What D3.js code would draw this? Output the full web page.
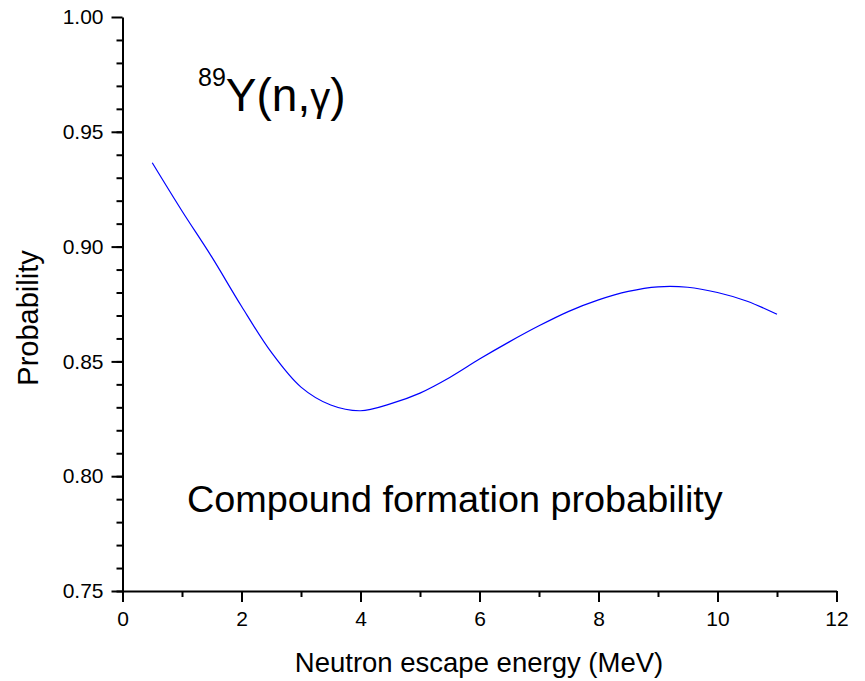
<!DOCTYPE html>
<html>
<head>
<meta charset="utf-8">
<script src="https://cdn.jsdelivr.net/npm/d3@7"></script>
<style>
  body { margin: 0; background: #fff; }
  svg { display: block; font-family: "Liberation Sans", Arial, sans-serif; }
</style>
</head>
<body>
<div id="chart"></div>
<script>
// neutron escape energy (MeV)
const energy = [0.5, 1.0, 1.5, 2.0, 2.5, 3.0, 3.5, 4.0, 4.5, 5.0, 5.5,
                6.0, 6.5, 7.0, 7.5, 8.0, 8.5, 9.0, 9.5, 10.0, 10.5, 11.0];
// compound formation probability
const probability = [0.9365, 0.9155, 0.8955, 0.8740, 0.8540, 0.8388, 0.8310, 0.8285,
                     0.8315, 0.8362, 0.8430, 0.8510, 0.8585, 0.8655, 0.8718, 0.8768,
                     0.8805, 0.8825, 0.8823, 0.8800, 0.8762, 0.8705];
const xTicks = [0, 2, 4, 6, 8, 10, 12];
const yTicks = [0.75, 0.80, 0.85, 0.90, 0.95, 1.00];

const width = 865, height = 681;
const margin = {top: 17, right: 28, bottom: 90, left: 122.5};

let svg = d3.select("#chart")
    .append("svg")
    .attr("width", width)
    .attr("height", height);

let x = d3.scaleLinear().domain([0, 12]).range([margin.left, 836.5]);
let y = d3.scaleLinear().domain([0.75, 1.0]).range([591, margin.top]);

// minor ticks first (no labels)
svg.append("g")
    .attr("transform", `translate(0, ${y(0.75)})`)
    .call(d3.axisBottom(x).tickValues(d3.range(1, 12, 2)).tickSize(6).tickFormat(""))
    .call(g => g.select(".domain").remove());
svg.append("g")
    .attr("transform", `translate(${x(0)}, 0)`)
    .call(d3.axisLeft(y).tickValues(d3.range(0, 25).map(i => 0.75 + i * 0.01)).tickSize(6).tickFormat(""))
    .call(g => g.select(".domain").remove());

// major axes
let xAxis = svg.append("g")
    .attr("transform", `translate(0, ${y(0.75)})`)
    .call(d3.axisBottom(x).tickValues(xTicks).tickSize(11).tickSizeOuter(0).tickPadding(9).tickFormat(d3.format("d")));
let yAxis = svg.append("g")
    .attr("transform", `translate(${x(0)}, 0)`)
    .call(d3.axisLeft(y).tickValues(yTicks).tickSize(11).tickSizeOuter(0).tickPadding(8).tickFormat(d3.format(".2f")));

svg.selectAll(".tick line").attr("stroke", "#000").attr("stroke-width", 2);
svg.selectAll(".domain").attr("stroke", "#000").attr("stroke-width", 2);
svg.selectAll(".tick text")
    .attr("fill", "#000")
    .style("font-size", "21px")
    .style("font-family", "'Liberation Sans', Arial, sans-serif");

// the curve
let pts = energy.map((e, i) => [e, probability[i]]);
let line = d3.line()
    .x(d => x(d[0]))
    .y(d => y(d[1]))
    .curve(d3.curveCatmullRom);

svg.append("path")
    .datum(pts)
    .attr("fill", "none")
    .attr("stroke", "#0000ff")
    .attr("stroke-width", 1.2)
    .attr("d", line);

// axis titles
svg.append("text")
    .attr("x", 479)
    .attr("y", 672)
    .style("text-anchor", "middle")
    .style("font-size", "27.5px")
    .text("Neutron escape energy (MeV)");

svg.append("text")
    .attr("transform", "translate(38, 318) rotate(-90)")
    .style("text-anchor", "middle")
    .style("font-size", "29px")
    .text("Probability");

// reaction label
let label = svg.append("text")
    .attr("x", 198)
    .attr("y", 111)
    .style("font-size", "46px");
label.append("tspan")
    .attr("dy", -25)
    .style("font-size", "25px")
    .text("89");
label.append("tspan")
    .attr("dy", 25)
    .text("Y(n,");
label.append("tspan")
    .style("font-size", "40px")
    .text("γ");
label.append("tspan")
    .text(")");

svg.append("text")
    .attr("x", 187)
    .attr("y", 512)
    .style("font-size", "37.8px")
    .text("Compound formation probability");
</script>
</body>
</html>
